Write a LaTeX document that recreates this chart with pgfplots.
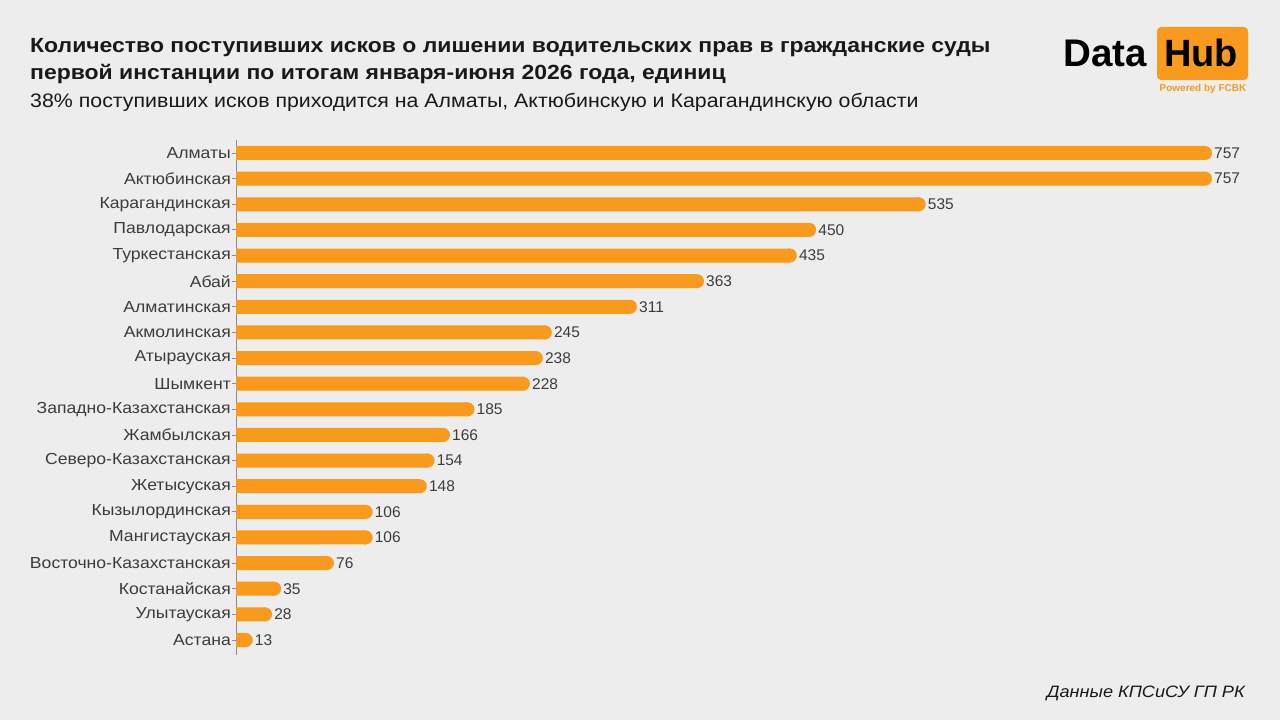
\documentclass[border=0pt]{standalone}
\usepackage{pgfplots}
\usepackage{pgfplotstable}
\pgfplotsset{compat=1.18}
\usepackage{fontspec}
\setmainfont{Liberation Sans}[FakeStretch=1.1]
\newfontfamily\titlefont{Liberation Sans}[FakeStretch=1.12]
\newfontfamily\subfont{Liberation Sans}[FakeStretch=1.095]
\newfontfamily\numfont{Liberation Sans}
\definecolor{bg}{RGB}{237,237,237}
\definecolor{barc}{RGB}{249,154,28}
\definecolor{lab}{RGB}{60,60,60}
\definecolor{ttl}{RGB}{25,25,25}
\definecolor{axc}{RGB}{140,140,140}
\pgfplotstableread{
idx v name
0 757 Алматы
1 757 Актюбинская
2 535 Карагандинская
3 450 Павлодарская
4 435 Туркестанская
5 363 Абай
6 311 Алматинская
7 245 Акмолинская
8 238 Атырауская
9 228 Шымкент
10 185 Западно-Казахстанская
11 166 Жамбылская
12 154 Северо-Казахстанская
13 148 Жетысуская
14 106 Кызылординская
15 106 Мангистауская
16 76 Восточно-Казахстанская
17 35 Костанайская
18 28 Улытауская
19 13 Астана
}\data
\begin{document}
\begin{tikzpicture}
\fill[bg] (0,0) rectangle (1280pt,720pt);
\useasboundingbox (0,0) rectangle (1280pt,720pt);
% titles
\node[anchor=base west, inner sep=0, text=ttl, font=\titlefont\fontsize{20.5}{23}\selectfont\bfseries] at (30pt,667pt) {Количество поступивших исков о лишении водительских прав в гражданские суды};
\node[anchor=base west, inner sep=0, text=ttl, font=\titlefont\fontsize{20.5}{23}\selectfont\bfseries] at (30pt,640pt) {первой инстанции по итогам января-июня 2026 года, единиц};
\node[anchor=base west, inner sep=0, text=ttl, font=\subfont\fontsize{19.5}{23}\selectfont] at (30pt,612pt) {38\% поступивших исков приходится на Алматы, Актюбинскую и Карагандинскую области};
% logo
\node[anchor=base west, inner sep=0, text=black, font=\numfont\fontsize{38.5}{40}\selectfont\bfseries] at (1063pt,653pt) {Data};
\fill[barc, rounded corners=4pt] (1157pt,640pt) rectangle (1248pt,693pt);
\node[anchor=base west, inner sep=0, text=black, font=\numfont\fontsize{38}{40}\selectfont\bfseries] at (1164pt,653pt) {Hub};
\node[anchor=base, inner sep=0, text=barc, font=\numfont\fontsize{10}{11}\selectfont\bfseries] at (1203pt,628pt) {Powered by FCBK};
% footer
\node[anchor=base east, inner sep=0, text=ttl, font=\fontsize{16.5}{19}\selectfont\itshape] at (1245pt,22pt) {Данные КПСиСУ ГП РК};
\begin{axis}[
  at={(236pt,65pt)}, anchor=south west,
  scale only axis, width=976pt, height=515pt,
  xmin=0, xmax=757,
  ymin=-0.507, ymax=19.585, y dir=reverse,
  clip=false,
  hide x axis,
  axis y line*=left,
  y axis line style={draw=axc, line width=0.8pt},
  ytick=data,
  yticklabels from table={\data}{name},
  tick align=outside,
  major tick length=4pt,
  ytick style={draw=axc, line width=0.8pt},
  yticklabel style={font=\fontsize{16}{18}\selectfont, text=lab, inner sep=1pt},
  /pgf/number format/assume math mode=true,
]
\addplot[xbar, bar shift=0pt, bar width=14pt, fill=barc, draw=none]
  table[x expr=\thisrow{v}-5.43, y=idx] {\data};
\addplot[only marks, mark=*, mark size=6.9pt, mark options={fill=barc, draw=barc, line width=0.1pt}]
  table[x expr=\thisrow{v}-5.43, y=idx] {\data};
\addplot[only marks, mark=none, point meta=x, nodes near coords,
  nodes near coords style={anchor=west, inner sep=2pt, text=lab, font=\numfont\fontsize{15.5}{18}\selectfont}]
  table[x=v, y=idx] {\data};
\end{axis}
\end{tikzpicture}
\end{document}
